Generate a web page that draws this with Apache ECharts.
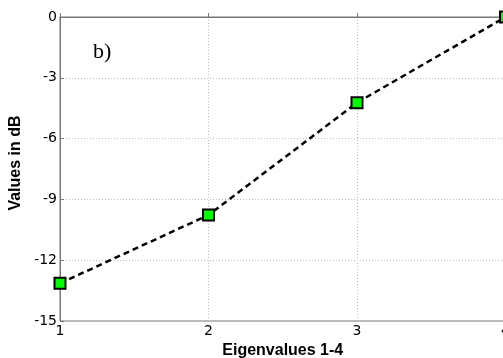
<!DOCTYPE html>
<html><head><meta charset="utf-8">
<script src="https://cdn.jsdelivr.net/npm/echarts@6/dist/echarts.min.js"></script>
<style>html,body{margin:0;padding:0;background:#fff}#c{width:503px;height:358px}</style>
</head><body><div id="c"></div>
<script>
const categories = [1, 2, 3, 4];
const values = [-13.14, -9.77, -4.23, 0];
const yTicks = [-15, -12, -9, -6, -3, 0];

const chart = echarts.init(document.getElementById('c'), null, {renderer: 'canvas'});
chart.setOption({
  animation: false,
  backgroundColor: '#fff',
  grid: {left: 60, right: -2.5, top: 17, bottom: 37, outerBoundsMode: 'none', containLabel: false,
         show: true, borderColor: '#777', borderWidth: 1, backgroundColor: 'transparent'},
  graphic: [{type: 'text', left: 93, top: 41, style: {text: 'b)', font: '22px "Liberation Serif", "Times New Roman", serif', fill: '#000'}}],
  xAxis: {
    type: 'value', min: 1, max: 4, interval: 1,
    name: 'Eigenvalues 1-4', nameLocation: 'middle', nameGap: 19,
    nameTextStyle: {fontFamily: 'Liberation Sans, Arial', fontWeight: 'bold', fontSize: 16, color: '#000'},
    axisLine: {show: true, lineStyle: {color: '#777', width: 1}},
    axisTick: {show: true, inside: true, length: 4, lineStyle: {color: '#777'}},
    axisLabel: {fontFamily: 'DejaVu Sans', fontSize: 14, color: '#000', margin: 3},
    splitLine: {show: true, lineStyle: {color: '#bbb', type: [1, 2], width: 1}}
  },
  yAxis: {
    type: 'value', min: yTicks[0], max: yTicks[yTicks.length - 1], interval: 3,
    name: 'Values in dB', nameLocation: 'middle', nameGap: 32, nameRotate: 90,
    nameTextStyle: {fontFamily: 'Liberation Sans, Arial', fontWeight: 'bold', fontSize: 16, color: '#000', padding: [0, 0, 0, 12]},
    axisLine: {show: true, lineStyle: {color: '#777', width: 1}},
    axisTick: {show: true, inside: true, length: 4, lineStyle: {color: '#777'}},
    axisLabel: {fontFamily: 'DejaVu Sans', fontSize: 14, color: '#000', margin: 3},
    splitLine: {show: true, lineStyle: {color: '#bbb', type: [1, 2], width: 1}}
  },
  series: [{
    type: 'line',
    data: categories.map((c, i) => [c, values[i]]),
    lineStyle: {color: '#000', width: 2.5, type: [6, 4]},
    symbol: 'rect', symbolSize: 11,
    itemStyle: {color: '#00ff00', borderColor: '#000', borderWidth: 2},
    clip: false
  }]
});
</script></body></html>
